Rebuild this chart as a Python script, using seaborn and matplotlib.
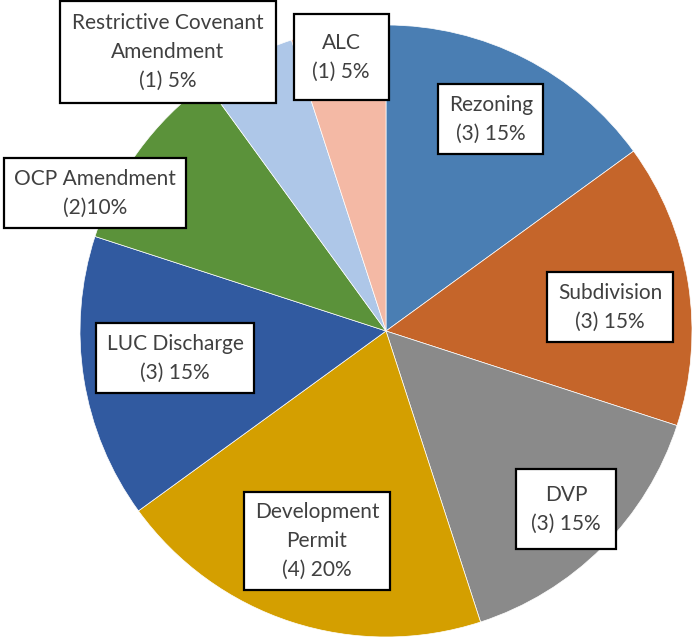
import matplotlib
matplotlib.use("Agg")
import matplotlib.pyplot as plt
import seaborn as sns

# application types, clockwise from 12 o'clock
categories = ["Rezoning", "Subdivision", "DVP", "Development\nPermit", "LUC Discharge",
              "OCP Amendment", "Restrictive Covenant\nAmendment", "ALC"]
counts = [3, 3, 3, 4, 3, 2, 1, 1]
count_labels = ["(3) 15%", "(3) 15%", "(3) 15%", "(4) 20%", "(3) 15%",
                "(2)10%", "(1) 5%", "(1) 5%"]
colors = ["#4a7eb3", "#c5652a", "#8a8a8a", "#d49f00", "#315aa0",
          "#5b923a", "#aec7e8", "#f4b9a5"]

sns.set_theme(style="white")
plt.rcParams["font.family"] = ["Lato", "DejaVu Sans"]

fig = plt.figure(figsize=(6.92, 6.39), dpi=100)
ax = fig.add_axes([0, 0, 1, 1])

ax.pie(counts, colors=colors, startangle=90, counterclock=False, radius=1,
       wedgeprops=dict(edgecolor="white", linewidth=0.5))
ax.set_aspect("equal")
ax.set_xlim(-386 / 306, 306 / 306)
ax.set_ylim(-308 / 306, 331 / 306)
ax.axis("off")

# label box centres (axes fraction) and box padding
label_pos = [(0.7095, 0.8138), (0.8815, 0.5196), (0.8179, 0.2034), (0.4581, 0.1534),
             (0.2529, 0.4397), (0.1373, 0.6980), (0.2428, 0.9186), (0.4928, 0.9108)]
pads = [0.5, 0.5, 0.75, 0.5, 0.5, 0.5, 0.6, 0.9]

for name, cl, (x, y), pad in zip(categories, count_labels, label_pos, pads):
    ax.text(x, y, f"{name}\n{cl}", transform=ax.transAxes, ha="center", va="center",
            fontsize=15, color="#404040", linespacing=1.55, multialignment="center",
            bbox=dict(boxstyle=f"square,pad={pad}", facecolor="white",
                      edgecolor="black", linewidth=1.6))

fig.savefig("out.png", dpi=100)
